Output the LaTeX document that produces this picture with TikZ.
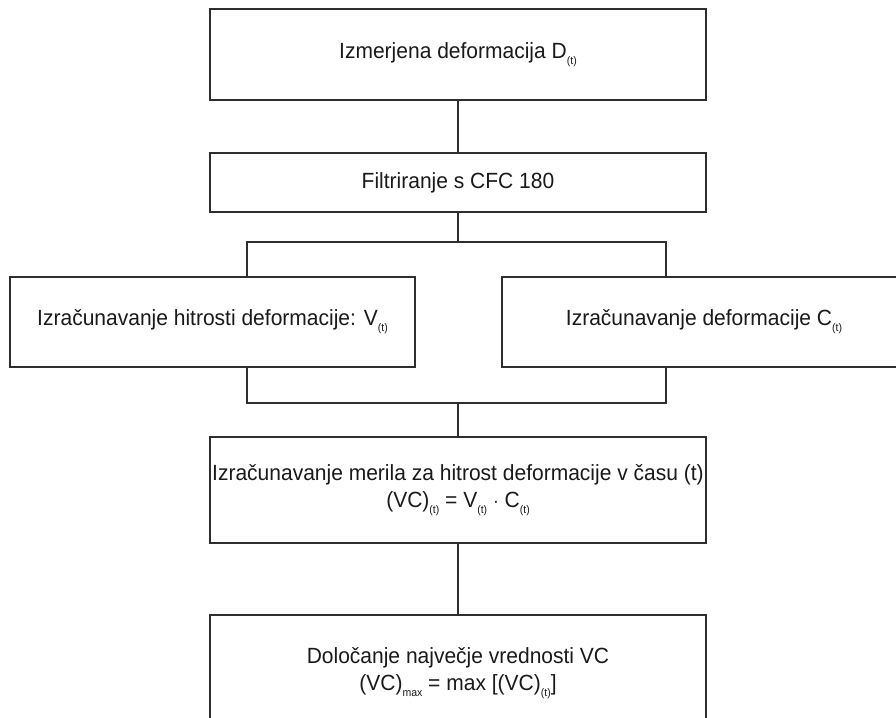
\documentclass[tikz,border=0pt]{standalone}
\usepackage{fontspec}
\setmainfont[FakeStretch=0.955]{Liberation Sans}
\definecolor{linegray}{HTML}{2E2E2E}
\definecolor{textgray}{HTML}{1A1A1A}
\newcommand\lowsub[1]{\raisebox{-6pt}{\fontsize{11}{11}\selectfont #1}}
\begin{document}
\begin{tikzpicture}[x=1pt,y=-1pt,
  box/.style={draw=linegray, line width=2pt, fill=white, inner sep=0pt,
    text=textgray, font=\fontsize{22}{26.5}\selectfont, align=center},
  conn/.style={draw=linegray, line width=2pt}]
\useasboundingbox (0,0) rectangle (896,717);
\fill[white] (0,0) rectangle (896,717);
\clip (0,0) rectangle (896,717);

\node[box, minimum width=496pt, minimum height=91pt] (b1) at (458,54.5)
  {Izmerjena deformacija D\lowsub{(t)}};
\node[box, minimum width=496pt, minimum height=59pt] (b2) at (458,182.5)
  {Filtriranje s CFC 180};
\node[box, minimum width=405pt, minimum height=90pt] (bl) at (212.5,322)
  {Izračunavanje hitrosti deformacije: V\lowsub{(t)}};
\node[box, minimum width=404pt, minimum height=90pt] (br) at (704,322)
  {Izračunavanje deformacije C\lowsub{(t)}};
\node[box, minimum width=496pt, minimum height=106pt] (b4) at (458,490)
  {Izračunavanje merila za hitrost deformacije v času (t)\\
   (VC)\lowsub{(t)} = V\lowsub{(t)} $\cdot$ C\lowsub{(t)}};
\node[box, minimum width=496pt, minimum height=116pt] (b5) at (458,673)
  {Določanje največje vrednosti VC\\
   (VC)\lowsub{max} = max [(VC)\lowsub{(t)}]};

\coordinate (sL) at (247,242);
\coordinate (sR) at (666,242);
\coordinate (mL) at (247,403);
\coordinate (mR) at (666,403);
\coordinate (sC) at (b2.south |- sL);
\coordinate (mC) at (b4.north |- mL);

\draw[conn] (b1.south) -- (b2.north);
\draw[conn] (b2.south) -- (sC);
\draw[conn] (sL |- bl.north) -- (sL) -- (sR) -- (sR |- br.north);
\draw[conn] (mL |- bl.south) -- (mL) -- (mR) -- (mR |- br.south);
\draw[conn] (mC) -- (b4.north);
\draw[conn] (b4.south) -- (b5.north);
\end{tikzpicture}
\end{document}
